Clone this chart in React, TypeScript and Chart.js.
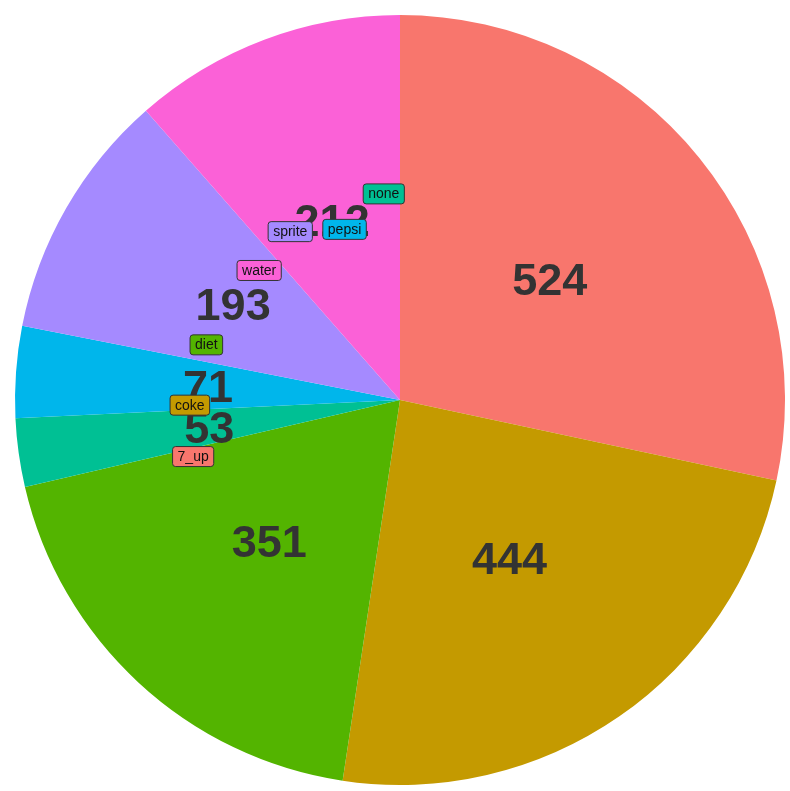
import React, { useEffect, useRef } from 'react';
import { Chart, registerables, Plugin } from 'chart.js';

Chart.register(...registerables);

// drink counts, in the order the slices run clockwise from 12 o'clock
const drinks = ['7_up', 'coke', 'diet', 'none', 'pepsi', 'sprite', 'water'];
const counts = [524, 444, 351, 53, 71, 193, 212];
const drinkColors = ['#F8766D', '#C49A00', '#53B400', '#00C094', '#00B6EB', '#A58AFF', '#FB61D7'];

// where the name tags ended up, in count units round the circle and as a share of the radius
const tagAt = [1307.5, 1378.8, 1467.6, 1824.9, 1755.6, 1678.1, 1604.7];
const tagRadius = [0.557, 0.546, 0.523, 0.537, 0.466, 0.522, 0.497];

const FONT = '"Liberation Sans", Arial, Helvetica, sans-serif';

const pieLabels: Plugin<'pie'> = {
  id: 'pieLabels',
  afterDatasetsDraw(chart) {
    const meta = chart.getDatasetMeta(0);
    if (!meta.data.length) return;
    const ctx = chart.ctx;
    const first: any = meta.data[0];
    const cx = first.x;
    const cy = first.y;
    const R = first.outerRadius;
    const total = counts.reduce((a, b) => a + b, 0);

    // counts inside the slices
    ctx.save();
    const size = 45;
    ctx.font = `bold ${size}px ${FONT}`;
    ctx.fillStyle = '#333333';
    ctx.textAlign = 'center';
    ctx.textBaseline = 'alphabetic';
    meta.data.forEach((el: any, i) => {
      const mid = (el.startAngle + el.endAngle) / 2;
      const x = cx + Math.cos(mid) * R * 0.5;
      const y = cy + Math.sin(mid) * R * 0.5;
      ctx.fillText(String(counts[i]), x, y + size * 0.358);
    });
    ctx.restore();

    // name tags
    ctx.save();
    ctx.font = `14px ${FONT}`;
    ctx.textAlign = 'center';
    ctx.textBaseline = 'middle';
    drinks.forEach((name, i) => {
      const ang = -Math.PI / 2 + (tagAt[i] / total) * Math.PI * 2;
      const x = cx + Math.cos(ang) * R * tagRadius[i];
      const y = cy + Math.sin(ang) * R * tagRadius[i];
      const w = ctx.measureText(name).width + 10;
      const h = 20;
      ctx.beginPath();
      ctx.roundRect(x - w / 2, y - h / 2, w, h, 3);
      ctx.fillStyle = drinkColors[i];
      ctx.fill();
      ctx.lineWidth = 1;
      ctx.strokeStyle = '#333333';
      ctx.stroke();
      ctx.fillStyle = '#111111';
      ctx.fillText(name, x, y + 0.5);
    });
    ctx.restore();
  },
};

export default function App() {
  const canvasRef = useRef<HTMLCanvasElement>(null);

  useEffect(() => {
    document.body.style.margin = '0';
    document.body.style.overflow = 'hidden';
    if (!canvasRef.current) return;
    const chart = new Chart(canvasRef.current, {
      type: 'pie',
      data: {
        labels: drinks,
        datasets: [
          {
            data: counts,
            backgroundColor: drinkColors,
            borderWidth: 0,
          },
        ],
      },
      options: {
        responsive: true,
        maintainAspectRatio: false,
        animation: false,
        layout: { padding: { left: 15, right: 5, top: 15, bottom: 6 } },
        plugins: {
          legend: { display: false },
          tooltip: { enabled: false },
        },
      },
      plugins: [pieLabels],
    });
    return () => chart.destroy();
  }, []);

  return (
    <div style={{ position: 'fixed', left: 0, top: 0, width: 790, height: 791, background: '#ffffff' }}>
      <canvas ref={canvasRef} />
    </div>
  );
}
